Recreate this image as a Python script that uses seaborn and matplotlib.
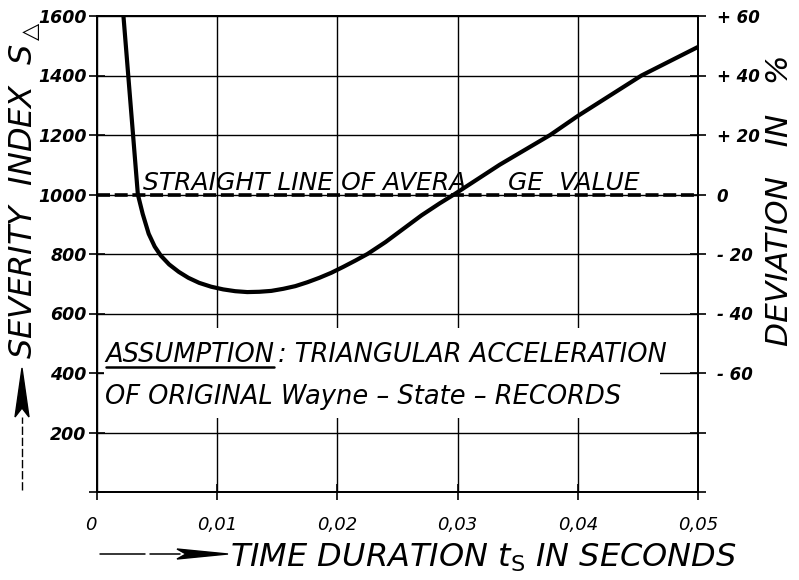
import matplotlib
matplotlib.use("Agg")
import matplotlib.pyplot as plt
import seaborn as sns
import pandas as pd
from matplotlib.patches import Rectangle, Polygon
from matplotlib.lines import Line2D

# Severity index of the triangular acceleration pulse versus its duration
t_s = [0.0022, 0.0026, 0.0030, 0.0034, 0.0038, 0.0043, 0.0048, 0.0053, 0.0060,
       0.0068, 0.0076, 0.0085, 0.0095, 0.0105, 0.0115, 0.0125, 0.0135, 0.0145,
       0.0155, 0.0165, 0.0175, 0.0185, 0.0195, 0.0205, 0.0215, 0.0225, 0.0240,
       0.0255, 0.0270, 0.0285, 0.0297, 0.0335, 0.0377, 0.0400, 0.0453, 0.0500]
severity = [1600, 1400, 1200, 1000, 935, 868, 825, 795, 765,
            740, 720, 703, 690, 681, 675, 672, 673, 676,
            683, 692, 705, 720, 737, 757, 778, 800, 840,
            885, 930, 970, 1000, 1100, 1200, 1264, 1400, 1496]
average_value = 1000

x_ticks = [0, 0.01, 0.02, 0.03, 0.04, 0.05]
x_tick_labels = ["0", "0,01", "0,02", "0,03", "0,04", "0,05"]
y_ticks = [0, 200, 400, 600, 800, 1000, 1200, 1400, 1600]
y_tick_labels = ["", "200", "400", "600", "800", "1000", "1200", "1400", "1600"]
dev_ticks = [-100, -80, -60, -40, -20, 0, 20, 40, 60]
dev_tick_labels = ["", "", "- 60", "- 40", "- 20", "0", "+ 20", "+ 40", "+ 60"]

sns.set_theme(style="white")
plt.rcParams["font.family"] = ["DejaVu Sans"]
plt.rcParams["mathtext.fontset"] = "dejavusans"
plt.rcParams["text.color"] = "black"
plt.rcParams["xtick.color"] = "black"
plt.rcParams["ytick.color"] = "black"
plt.rcParams["xtick.labelcolor"] = "black"
plt.rcParams["ytick.labelcolor"] = "black"

W, H = 799, 580
fig = plt.figure(figsize=(W / 100, H / 100), dpi=100)
fig.patch.set_facecolor("white")


def fx(px):
    return px / W


def fy(py):
    return 1 - py / H


ax = fig.add_axes([fx(97), fy(492), fx(698) - fx(97), fy(16) - fy(492)])
ax.set_facecolor("white")

df = pd.DataFrame({"t": t_s, "S": severity})
sns.lineplot(data=df, x="t", y="S", ax=ax, color="black", linewidth=3.0,
             estimator=None, sort=False, zorder=3)
for ln in ax.get_lines():
    ln.set_solid_joinstyle("round")
    ln.set_solid_capstyle("butt")
ax.axhline(average_value, color="black", linewidth=2.6,
           linestyle=(0, (3.6, 1.3)), zorder=3)

ax.set_xlim(0, 0.05)
ax.set_ylim(0, 1600)
ax.set_xticks(x_ticks)
ax.set_xticklabels(x_tick_labels)
ax.set_yticks(y_ticks)
ax.set_yticklabels(y_tick_labels)
ax.set_xlabel("")
ax.set_ylabel("")
ax.set_axisbelow(True)
ax.grid(True, color="black", linewidth=1.0)
for sp in ax.spines.values():
    sp.set_visible(True)
    sp.set_color("black")
    sp.set_linewidth(1.3)
ax.tick_params(axis="both", which="major", direction="inout", length=11,
               width=1.2, color="black", labelcolor="black", bottom=True,
               left=True, top=False, right=False)
ax.tick_params(axis="y", pad=2)
ax.tick_params(axis="x", pad=12)
for lab in ax.get_yticklabels():
    lab.set_fontstyle("italic")
    lab.set_fontweight("bold")
    lab.set_fontsize(12.5)
for lab in ax.get_xticklabels():
    lab.set_fontstyle("italic")
    lab.set_fontsize(13)
ax.get_xticklabels()[0].set_horizontalalignment("right")

# Deviation from the average value, in percent
ax2 = ax.twinx()
ax2.set_ylim((0 - average_value) / 10, (1600 - average_value) / 10)
ax2.set_yticks(dev_ticks)
ax2.set_yticklabels(dev_tick_labels)
ax2.grid(False)
for sp in ax2.spines.values():
    sp.set_color("black")
    sp.set_linewidth(1.3)
ax2.tick_params(axis="y", direction="inout", length=11, width=1.2,
                color="black", labelcolor="black", pad=8, right=True, left=False)
for lab in ax2.get_yticklabels():
    lab.set_fontstyle("italic")
    lab.set_fontweight("bold")
    lab.set_fontsize(12)

# Annotation over the dashed average line
txt_kw = dict(color="black", fontstyle="italic", fontsize=18, zorder=4)
ax.text(0.00383, 1015, "STRAIGHT LINE OF AVERA", ha="left", va="baseline", **txt_kw)
ax.text(0.0342, 1015, "GE  VALUE", ha="left", va="baseline", **txt_kw)

# White panel carrying the assumption note
ax.add_patch(Rectangle((0.0006, 249), 0.0462, 302, facecolor="white",
                       edgecolor="none", zorder=2))
note_kw = dict(txt_kw, fontsize=18.5)
t_assump = ax.text(0.00067, 437, "ASSUMPTION", ha="left", va="baseline", **note_kw)
ax.annotate(": TRIANGULAR ACCELERATION", xy=(1, 0), xycoords=t_assump,
            xytext=(3, 0), textcoords="offset points",
            ha="left", va="bottom", **note_kw)
ax.text(0.00067, 296, "OF ORIGINAL Wayne – State – RECORDS", ha="left",
        va="baseline", **note_kw)

# Axis titles with their arrows
fig.text(fx(25), fy(190), r"SEVERITY  INDEX  $S_{\triangle}$", rotation=90,
         ha="center", va="center", fontsize=23, fontstyle="italic", color="black")
fig.text(fx(779), fy(200), "DEVIATION   IN   %", rotation=90,
         ha="center", va="center", fontsize=22.5, fontstyle="italic", color="black")
fig.text(fx(230), fy(567), r"TIME DURATION $t_{\mathrm{S}}$ IN SECONDS",
         ha="left", va="baseline", fontsize=23, fontstyle="italic", color="black")

fig.add_artist(Line2D([fx(100), fx(145)], [fy(554), fy(554)], color="black", lw=1.1))
fig.add_artist(Line2D([fx(150), fx(180)], [fy(554), fy(554)], color="black", lw=1.1))
fig.add_artist(Polygon([[fx(177), fy(549)], [fx(228), fy(554)], [fx(177), fy(559)],
                        [fx(186), fy(554)]], closed=True, facecolor="black",
                       edgecolor="black", transform=fig.transFigure))

fig.add_artist(Line2D([fx(22), fx(22)], [fy(490), fy(417)], color="black", lw=1.0,
                      linestyle=(0, (6, 2))))
fig.add_artist(Polygon([[fx(15), fy(417)], [fx(22), fy(368)], [fx(29), fy(417)],
                        [fx(22), fy(408)]], closed=True, facecolor="black",
                       edgecolor="black", transform=fig.transFigure))

fig.canvas.draw()
bb = t_assump.get_window_extent()
fig.add_artist(Line2D([bb.x0 + 1, bb.x1], [bb.y0 + 1, bb.y0 + 1], transform=None,
                      color="black", lw=1.8))

fig.savefig("out.png", dpi=100, facecolor="white")
